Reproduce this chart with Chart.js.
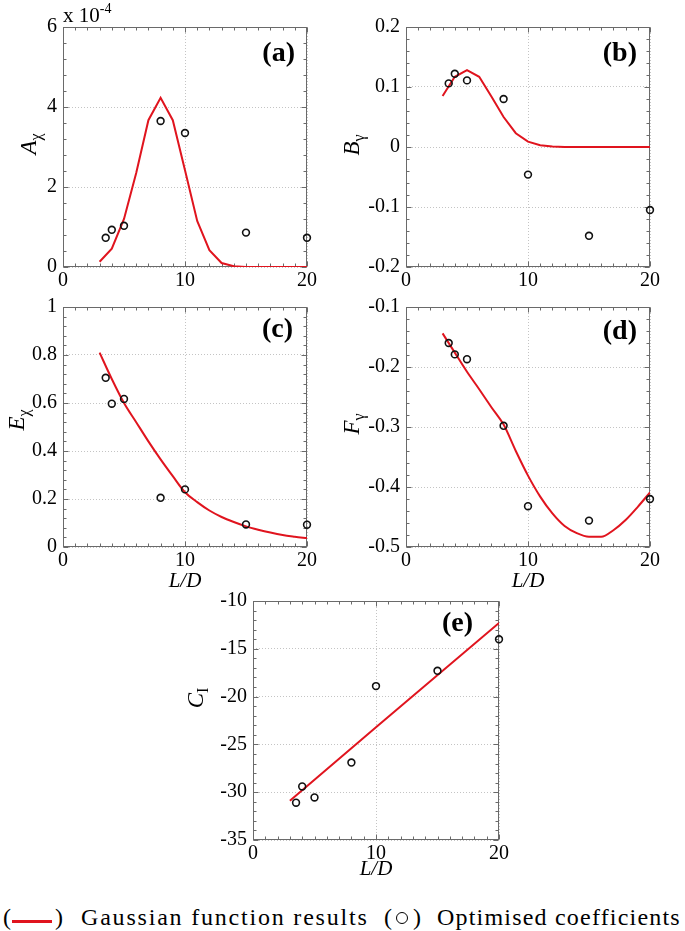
<!DOCTYPE html>
<html>
<head>
<meta charset="utf-8">
<script src="https://cdn.jsdelivr.net/npm/chart.js@4.4.0/dist/chart.umd.min.js"></script>
<style>
  body { margin: 0; background: #fff; width: 685px; height: 931px; position: relative; overflow: hidden;
         font-family: "Liberation Serif", Tinos, "Times New Roman", Times, "Nimbus Roman", FreeSerif, "Noto Serif", "DejaVu Serif", serif; color: #000; }
  canvas.pnl { position: absolute; }
  .t { position: absolute; line-height: 1; white-space: nowrap; z-index: 2; }
  .tag { font-weight: bold; font-size: 28px; }
  .yt { font-size: 23px; font-style: italic; transform: translate(-50%, -50%) rotate(-90deg); }
  .yt sub { font-style: normal; font-size: 16px; vertical-align: -5px; }
  .xt { font-size: 21px; font-style: italic; transform: translate(-50%, -50%); }
  .leg { font-size: 24px; letter-spacing: 0.5px; }
</style>
</head>
<body>
<canvas id="pa" class="pnl"></canvas>
<canvas id="pb" class="pnl"></canvas>
<canvas id="pc" class="pnl"></canvas>
<canvas id="pd" class="pnl"></canvas>
<canvas id="pe" class="pnl"></canvas>

<div class="t" style="left:63px;top:2px;font-size:21px">x 10<sup style="font-size:14px;vertical-align:9px">-4</sup></div>

<div class="t tag" style="right:390px;top:38px">(a)</div>
<div class="t tag" style="right:48px;top:38px">(b)</div>
<div class="t tag" style="right:392px;top:314px">(c)</div>
<div class="t tag" style="right:48px;top:316px">(d)</div>
<div class="t tag" style="right:212px;top:608px">(e)</div>

<div class="t yt" style="left:30px;top:144px">A<sub>χ</sub></div>
<div class="t yt" style="left:353px;top:145px">B<sub>γ</sub></div>
<div class="t yt" style="left:18px;top:420px">E<sub>χ</sub></div>
<div class="t yt" style="left:353px;top:424px">F<sub>γ</sub></div>
<div class="t yt" style="left:197px;top:698px">C<sub>I</sub></div>

<div class="t xt" style="left:185px;top:580px">L/D</div>
<div class="t xt" style="left:528px;top:580px">L/D</div>
<div class="t xt" style="left:376px;top:868px">L/D</div>

<div class="t leg" style="left:3px;top:905px">(</div>
<div style="position:absolute;left:12px;top:920px;width:40px;height:3px;background:#e0141e"></div>
<div class="t leg" style="left:55px;top:905px">)</div>
<div class="t leg" style="left:81px;top:905px;letter-spacing:1.8px">Gaussian function results</div>
<div class="t leg" style="left:384px;top:905px">(</div>
<div style="position:absolute;left:396px;top:912px;width:10px;height:10px;border:1.5px solid #000;border-radius:50%"></div>
<div class="t leg" style="left:413px;top:905px">)</div>
<div class="t leg" style="left:437px;top:905px;letter-spacing:1.2px">Optimised coefficients</div>

<script>
// L/D values of the optimised coefficients
const LD_opt = [3.5, 4, 5, 8, 10, 15, 20];
// L/D values where the Gaussian function curve is sampled
const LD_fit = [3, 4, 5, 6, 7, 8, 9, 10, 11, 12, 13, 14, 15, 16, 17, 18, 19, 20];
const LD_fitC = [3, 10, 20];

// (a) A_chi
const A_opt = [0.73e-4, 0.93e-4, 1.03e-4, 3.65e-4, 3.35e-4, 0.86e-4, 0.73e-4];
const A_fit = [0.13e-4, 0.46e-4, 1.2e-4, 2.35e-4, 3.67e-4, 4.23e-4, 3.67e-4, 2.42e-4, 1.15e-4,
               0.42e-4, 0.1e-4, 0.02e-4, 0, 0, 0, 0, 0, 0];
// (b) B_gamma
const B_opt = [0.106, 0.122, 0.111, 0.080, -0.046, -0.148, -0.105];
const B_fit = [0.085, 0.117, 0.128, 0.117, 0.084, 0.050, 0.023, 0.009, 0.003,
               0.001, 0, 0, 0, 0, 0, 0, 0, 0];
// (c) E_chi
const E_opt = [0.705, 0.597, 0.617, 0.205, 0.240, 0.094, 0.093];
const E_fit = [0.81, 0.70, 0.60, 0.52, 0.44, 0.365, 0.295, 0.228, 0.187,
               0.152, 0.125, 0.104, 0.086, 0.072, 0.060, 0.050, 0.043, 0.037];
// (d) F_gamma
const F_opt = [-0.160, -0.179, -0.187, -0.298, -0.432, -0.456, -0.420];
const F_fit = [-0.144, -0.176, -0.208, -0.237, -0.267, -0.296, -0.340, -0.381, -0.416,
               -0.444, -0.465, -0.477, -0.483, -0.483, -0.472, -0.455, -0.433, -0.409];
// (e) C_I
const C_opt = [-31.1, -29.4, -30.55, -26.9, -18.9, -17.3, -14.0];
const C_fit = [-30.9, -23.2, -12.3];

const xTicks = { min: 0, max: 20, step: 10, minor: 1 };

const YW = 60, PT = 15, XH = 30, PR = 20;
const tickFont = { family: '"Liberation Serif", Tinos, "Times New Roman", Times, "Nimbus Roman", FreeSerif, "Noto Serif", "DejaVu Serif", serif', size: 20 };
const fmt2 = v => String(Number(v.toFixed(2)));

// box around the plot with inward major/minor ticks on all sides
const boxPlugin = {
  id: 'box',
  beforeDatasetsDraw(chart, args, opts) {
    const { ctx, chartArea: a, scales: { x, y } } = chart;
    const L = Math.round(a.left) + 0.5, R = Math.round(a.right) - 0.5;
    const T = Math.round(a.top) + 0.5, B = Math.round(a.bottom) - 0.5;
    ctx.save();
    ctx.strokeStyle = '#6a6a6a';
    ctx.lineWidth = 1;
    ctx.beginPath();
    const marks = (sc, minor, major, horiz) => {
      const n = Math.round((sc.max - sc.min) / minor);
      for (let i = 0; i <= n; i++) {
        const v = sc.min + i * minor;
        const r = v / major;
        const len = Math.abs(r - Math.round(r)) < 1e-6 ? 5 : 3;
        const p = Math.round(sc.getPixelForValue(v)) + 0.5;
        if (horiz) {
          ctx.moveTo(p, B); ctx.lineTo(p, B - len);
          ctx.moveTo(p, T); ctx.lineTo(p, T + len);
        } else {
          ctx.moveTo(L, p); ctx.lineTo(L + len, p);
          ctx.moveTo(R, p); ctx.lineTo(R - len, p);
        }
      }
    };
    marks(x, opts.xMinor, opts.xMajor, true);
    marks(y, opts.yMinor, opts.yMajor, false);
    ctx.stroke();
    ctx.strokeRect(L, T, R - L, B - T);
    ctx.restore();
  }
};

function makePanel(id, area, fitX, fitY, optY, ys) {
  const [l, t, r, b] = area;
  const cv = document.getElementById(id);
  cv.width = YW + (r - l) + PR;
  cv.height = PT + (b - t) + XH;
  cv.style.left = (l - YW) + 'px';
  cv.style.top = (t - PT) + 'px';

  new Chart(cv, {
    type: 'scatter',
    data: {
      datasets: [{
        label: 'Optimised coefficients',
        data: LD_opt.map((v, i) => ({ x: v, y: optY[i] })),
        pointStyle: 'circle',
        pointRadius: 3.4,
        pointBorderWidth: 1.6,
        pointBorderColor: '#111',
        pointBackgroundColor: 'rgba(0,0,0,0)',
        clip: false
      }, {
        label: 'Gaussian function results',
        data: fitX.map((v, i) => ({ x: v, y: fitY[i] })),
        showLine: true,
        borderColor: '#e0141e',
        borderWidth: 2,
        pointRadius: 0,
        cubicInterpolationMode: ys.smooth ? 'monotone' : 'default'
      }]
    },
    options: {
      responsive: false,
      animation: false,
      devicePixelRatio: 1,
      layout: { padding: { top: PT, right: PR, left: 0, bottom: 0 } },
      plugins: {
        legend: { display: false },
        tooltip: { enabled: false },
        box: { xMinor: xTicks.minor, xMajor: xTicks.step, yMinor: ys.minor, yMajor: ys.step }
      },
      scales: {
        x: {
          type: 'linear', min: xTicks.min, max: xTicks.max,
          ticks: { stepSize: xTicks.step, color: '#000', font: tickFont, padding: 2, maxRotation: 0 },
          grid: { color: '#c4c4c4', drawTicks: false },
          border: { display: false, dash: [1, 2] },
          afterFit: s => { s.height = XH; s.paddingLeft = 0; s.paddingRight = 0; }
        },
        y: {
          type: 'linear', min: ys.min, max: ys.max,
          ticks: { stepSize: ys.step, color: '#000', font: tickFont, padding: 6, callback: ys.fmt },
          grid: { color: '#c4c4c4', drawTicks: false },
          border: { display: false, dash: [1, 2] },
          afterFit: s => { s.width = YW; s.paddingTop = 0; s.paddingBottom = 0; }
        }
      }
    },
    plugins: [boxPlugin]
  });
}

makePanel('pa', [63, 27, 307, 267], LD_fit, A_fit, A_opt,
  { min: 0, max: 6e-4, step: 2e-4, minor: 0.4e-4, fmt: v => String(Math.round(v / 1e-4)) });
makePanel('pb', [406, 27, 650, 267], LD_fit, B_fit, B_opt,
  { min: -0.2, max: 0.2, step: 0.1, minor: 0.02, fmt: fmt2 });
makePanel('pc', [63, 307, 307, 547], LD_fit, E_fit, E_opt,
  { min: 0, max: 1, step: 0.2, minor: 0.04, fmt: fmt2, smooth: true });
makePanel('pd', [406, 307, 650, 547], LD_fit, F_fit, F_opt,
  { min: -0.5, max: -0.1, step: 0.1, minor: 0.02, fmt: fmt2, smooth: true });
makePanel('pe', [253, 601, 499, 840], LD_fitC, C_fit, C_opt,
  { min: -35, max: -10, step: 5, minor: 1, fmt: v => String(Math.round(v)) });
</script>
</body>
</html>
